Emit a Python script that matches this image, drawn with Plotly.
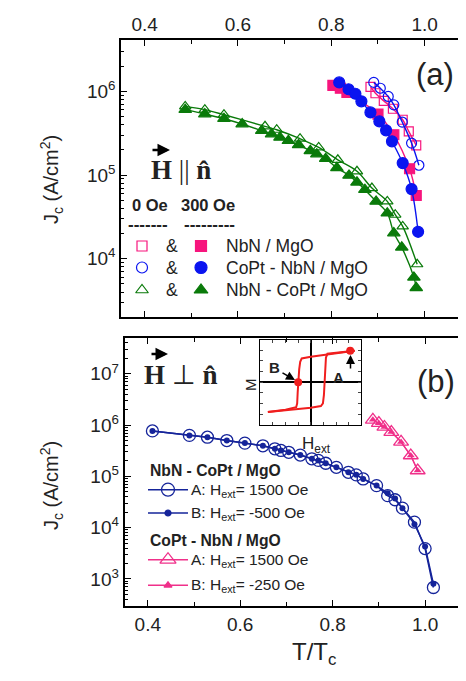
import plotly.graph_objects as go

# ---------------- data: panel (a)  H || n ----------------
nbn_0_x = [0.884, 0.8946, 0.9125, 0.932, 0.953, 0.966, 0.982]
nbn_0_y = [1.13e6, 9.5e5, 7.7e5, 6.2e5, 4.58e5, 3.33e5, 2.26e5]
nbn_300_x = [0.8034, 0.8194, 0.8335, 0.900, 0.934, 0.9677, 0.982]
nbn_300_y = [1.18e6, 1.09e6, 9.7e5, 5.36e5, 3.03e5, 1.19e5, 5.7e4]
copt_nbn_0_x = [0.891, 0.905, 0.922, 0.934, 0.952, 0.972, 0.9877]
copt_nbn_0_y = [1.28e6, 1.09e6, 8.7e5, 6.9e5, 4.3e5, 2.41e5, 1.31e5]
copt_nbn_300_x = [0.817, 0.837, 0.8516, 0.8645, 0.8839, 0.903, 0.9174, 0.930, 0.953, 0.972, 0.986]
copt_nbn_300_y = [1.28e6, 1.06e6, 9.36e5, 7.6e5, 5.61e5, 4.38e5, 3.42e5, 2.53e5, 1.39e5, 6.8e4, 2.1e4]
nbn_copt_0_x = [0.487, 0.529, 0.570, 0.658, 0.683, 0.733, 0.773, 0.814, 0.855, 0.887, 0.920, 0.937, 0.953, 0.984]
nbn_copt_0_y = [6.62e5, 6.04e5, 5.26e5, 3.82e5, 3.48e5, 2.72e5, 2.14e5, 1.52e5, 1.11e5, 7.0e4, 4.85e4, 3.36e4, 2.44e4, 8.6e3]
nbn_copt_300_x = [0.487, 0.529, 0.570, 0.609, 0.651, 0.672, 0.690, 0.708, 0.730, 0.755, 0.769, 0.788,
                  0.812, 0.838, 0.855, 0.872, 0.896, 0.920, 0.934, 0.951, 0.977, 0.982]
nbn_copt_300_y = [6.04e5, 5.36e5, 4.71e5, 4.07e5, 3.39e5, 3.09e5, 2.82e5, 2.57e5, 2.30e5, 1.95e5, 1.78e5, 1.57e5,
                  1.22e5, 9.9e4, 8.2e4, 6.7e4, 4.85e4, 3.5e4, 2.03e4, 1.37e4, 6.0e3, 4.5e3]

# ---------------- data: panel (b)  H perpendicular n ----------------
b_nbn_copt_x = [0.41, 0.49, 0.529, 0.571, 0.61, 0.649, 0.675, 0.688, 0.705, 0.73, 0.755, 0.769,
                0.785, 0.808, 0.834, 0.851, 0.866, 0.895, 0.919, 0.935, 0.951, 0.977, 1.0, 1.018]
b_nbn_copt_A = [7.7e5, 6.3e5, 5.8e5, 5.0e5, 4.45e5, 3.95e5, 3.45e5, 3.2e5, 2.95e5, 2.6e5, 2.2e5, 2.05e5,
                1.8e5, 1.5e5, 1.2e5, 1.07e5, 8.9e4, 6.6e4, 4.2e4, 3.5e4, 2.4e4, 1.28e4, 3.9e3, 6.8e2]
b_nbn_copt_B = [7.7e5, 6.3e5, 5.8e5, 5.0e5, 4.45e5, 3.95e5, 3.45e5, 3.2e5, 2.95e5, 2.6e5, 2.2e5, 2.05e5,
                1.8e5, 1.5e5, 1.2e5, 1.07e5, 8.9e4, 6.6e4, 4.7e4, 3.7e4, 2.4e4, 1.17e4, 4.3e3, 8.0e2]
b_copt_nbn_x = [0.887, 0.900, 0.912, 0.927, 0.948, 0.969, 0.984]
b_copt_nbn_A = [1.27e6, 1.09e6, 9.2e5, 7.3e5, 4.7e5, 2.55e5, 1.3e5]
b_copt_nbn_B = [1.27e6, 1.09e6, 9.2e5, 7.3e5, 4.7e5, 2.55e5, 1.3e5]

# inset hysteresis loop (normalised H, M)
loop_up_H = [-0.85, -0.5, -0.29, -0.27, -0.26, -0.25, -0.23, -0.21, -0.18, 0.0, 0.3, 0.6, 0.87]
loop_up_M = [-0.70, -0.65, -0.59, -0.50, -0.25, 0.0, 0.30, 0.48, 0.56, 0.60, 0.65, 0.70, 0.74]
loop_dn_H = [0.87, 0.6, 0.33, 0.30, 0.29, 0.28, 0.26, 0.24, 0.20, 0.0, -0.4, -0.85]
loop_dn_M = [0.74, 0.71, 0.67, 0.58, 0.30, 0.0, -0.30, -0.50, -0.56, -0.60, -0.65, -0.70]
point_A = (0.78, 0.74)
point_B = (-0.25, 0.0)

x_ticks = [0.4, 0.6, 0.8, 1.0]
x_ticklabels = ["0.4", "0.6", "0.8", "1.0"]
x_minor = [0.5, 0.7, 0.9]
y_ticks_a = [1e4, 1e5, 1e6]
y_ticklabels_a = ["10<sup>4</sup>", "10<sup>5</sup>", "10<sup>6</sup>"]
y_ticks_b = [1e3, 1e4, 1e5, 1e6, 1e7]
y_ticklabels_b = ["10<sup>3</sup>", "10<sup>4</sup>", "10<sup>5</sup>", "10<sup>6</sup>", "10<sup>7</sup>"]
decades = [2, 3, 4, 5, 6, 7]
log_minor = [m * 10 ** d for d in decades for m in range(2, 10)]

W, H = 466, 681
FONT = "Liberation Sans, Arial, sans-serif"
SERIF = "Liberation Serif, Times New Roman, serif"
PINK = "#F7157D"
BLUE = "#0A14F0"
GREEN = "#0A7A0A"
NAVY = "#15249A"
BPINK = "#F0308A"
RED = "#F01E1E"
TXT = "#222222"

def px2x(p):
    return p / W

def py2y(p):
    return 1 - p / H

fig = go.Figure()

# ---- panel (a) traces ----
def add_a(x, y, sym, color, size):
    fig.add_trace(go.Scatter(x=x, y=y, mode="lines+markers", xaxis="x", yaxis="y",
                             line=dict(color=color, width=1.4, shape="spline", smoothing=1.0),
                             marker=dict(symbol=sym, size=size, color=color,
                                         line=dict(color=color, width=1.2)),
                             showlegend=False))

add_a(nbn_copt_0_x, nbn_copt_0_y, "triangle-up-open", GREEN, 10)
add_a(nbn_copt_300_x, nbn_copt_300_y, "triangle-up", GREEN, 11)
add_a(nbn_0_x, nbn_0_y, "square-open", PINK, 9)
add_a(copt_nbn_0_x, copt_nbn_0_y, "circle-open", BLUE, 10)
add_a(nbn_300_x, nbn_300_y, "square", PINK, 10)
add_a(copt_nbn_300_x, copt_nbn_300_y, "circle", BLUE, 11)

# ---- panel (b) traces ----
fig.add_trace(go.Scatter(x=b_nbn_copt_x, y=b_nbn_copt_A, mode="lines+markers", xaxis="x2", yaxis="y2",
                         line=dict(color=NAVY, width=1.5),
                         marker=dict(symbol="circle-open", size=12, color=NAVY, line=dict(width=1.3)),
                         showlegend=False))
fig.add_trace(go.Scatter(x=b_nbn_copt_x, y=b_nbn_copt_B, mode="lines+markers", xaxis="x2", yaxis="y2",
                         line=dict(color=NAVY, width=1.5),
                         marker=dict(symbol="circle", size=6, color=NAVY),
                         showlegend=False))
fig.add_trace(go.Scatter(x=b_copt_nbn_x, y=b_copt_nbn_A, mode="lines+markers", xaxis="x2", yaxis="y2",
                         line=dict(color=BPINK, width=1.3),
                         marker=dict(symbol="triangle-up-open", size=13, color=BPINK, line=dict(width=1.3)),
                         showlegend=False))
fig.add_trace(go.Scatter(x=b_copt_nbn_x, y=b_copt_nbn_B, mode="lines+markers", xaxis="x2", yaxis="y2",
                         line=dict(color=BPINK, width=1.3),
                         marker=dict(symbol="triangle-up", size=7, color=BPINK),
                         showlegend=False))

# ---- inset loop ----
fig.add_trace(go.Scatter(x=loop_up_H, y=loop_up_M, mode="lines", xaxis="x4", yaxis="y4",
                         line=dict(color=RED, width=2), showlegend=False))
fig.add_trace(go.Scatter(x=loop_dn_H, y=loop_dn_M, mode="lines", xaxis="x4", yaxis="y4",
                         line=dict(color=RED, width=2), showlegend=False))
fig.add_trace(go.Scatter(x=[point_A[0], point_B[0]], y=[point_A[1], point_B[1]], mode="markers",
                         xaxis="x4", yaxis="y4", marker=dict(color=RED, size=8), showlegend=False))

# ---- legend keys (pixel overlay axis x3/y3) ----
def key(xs, ys, sym, color, size, mode="markers", lw=1.2):
    fig.add_trace(go.Scatter(x=xs, y=ys, mode=mode, xaxis="x3", yaxis="y3",
                             line=dict(color=color, width=1.5),
                             marker=dict(symbol=sym, size=size, color=color, line=dict(color=color, width=lw)),
                             showlegend=False, hoverinfo="skip"))

rows_a = [238, 259.5, 282]
key([134], [rows_a[0]], "square-open", PINK, 10)
key([193], [rows_a[0]], "square", PINK, 11)
key([134], [rows_a[1]], "circle-open", BLUE, 11)
key([193], [rows_a[1]], "circle", BLUE, 12)
key([134], [rows_a[2]], "triangle-up-open", GREEN, 11)
key([193], [rows_a[2]], "triangle-up", GREEN, 12)

# bottom legend keys
key([140, 180], [481.7, 481.7], "circle-open", NAVY, 1, mode="lines")
key([160], [481.7], "circle-open", NAVY, 13, lw=1.3)
key([140, 180], [505, 505], "circle", NAVY, 1, mode="lines")
key([160], [505], "circle", NAVY, 6)
key([140, 180], [551.7, 551.7], "circle", BPINK, 1, mode="lines")
key([160], [551.7], "triangle-up-open", BPINK, 14, lw=1.3)
key([140, 180], [577.3, 577.3], "circle", BPINK, 1, mode="lines")
key([160], [577.3], "triangle-up", BPINK, 7)

# ---- annotations ----
ann = []

def txt(x, y, text, size, anchor="center", bold=False, font=FONT, color=TXT, angle=0):
    t = f"<b>{text}</b>" if bold else text
    ann.append(dict(x=x, y=y, xref="x3", yref="y3", text=t, showarrow=False, xanchor=anchor,
                    yanchor="middle", textangle=angle, font=dict(family=font, size=size, color=color)))

def arrow(xh, yh, ax, ay, width=2.2, head=2, size=1.0):
    ann.append(dict(x=xh, y=yh, xref="x3", yref="y3", text="", showarrow=True, ax=ax, ay=ay,
                    arrowhead=head, arrowsize=size, arrowwidth=width, arrowcolor="black"))

txt(427, 66, "(a)", 31)
txt(428, 373, "(b)", 31)

# panel a field label
txt(173, 162, "<b>H</b> || <b>n\u0302</b>", 27, font=SERIF)
arrow(162, 142, -19, 0, width=2.5)
# panel b field label
txt(173, 367, "<b>H</b> \u22a5 <b>n\u0302</b>", 27, font=SERIF)
arrow(160, 346, -18, 0, width=2.5)

txt(142, 197, "0 Oe", 16.5, bold=True)
txt(200, 197, "300 Oe", 16.5, bold=True)
txt(139.5, 216, "-------", 17, bold=True)
txt(201.5, 216, "---------", 17, bold=True)
for r in rows_a:
    txt(164, r, "&", 17.5)
txt(216, rows_a[0], "NbN / MgO", 17.5, anchor="left")
txt(216, rows_a[1], "CoPt - NbN / MgO", 17.5, anchor="left")
txt(216, rows_a[2], "NbN - CoPt / MgO", 17.5, anchor="left")

txt(140, 462, "NbN - CoPt / MgO", 15.7, anchor="left", bold=True)
txt(181, 482, "A: H<sub>ext</sub>= 1500 Oe", 15.5, anchor="left")
txt(181, 505, "B: H<sub>ext</sub>= -500 Oe", 15.5, anchor="left")
txt(140, 532, "CoPt - NbN / MgO", 15.7, anchor="left", bold=True)
txt(181, 552, "A: H<sub>ext</sub>= 1500 Oe", 15.5, anchor="left")
txt(181, 577, "B: H<sub>ext</sub>= -250 Oe", 15.5, anchor="left")

# inset labels
txt(242, 377, "M", 15, angle=-90)
txt(308, 437, "H<sub>ext</sub>", 17)
txt(266, 359, "B", 15, bold=True)
txt(330, 369, "A", 15, bold=True)
arrow(287, 372, -14, -8, width=1.5, size=1.2)
arrow(342.5, 347, 0, 15, width=1.5, size=1.2)

# axis titles
txt(43, 172, "J<sub>c</sub> (A/cm<sup>2</sup>)", 20, angle=-90)
txt(43, 478, "J<sub>c</sub> (A/cm<sup>2</sup>)", 20, angle=-90)
txt(306, 645, "T/T<sub>c</sub>", 24)

axis_common = dict(showgrid=False, zeroline=False, showline=True, linecolor="black", linewidth=2,
                   mirror="ticks", ticks="inside", tickcolor="black", tickwidth=1.3, ticklen=6,
                   tickfont=dict(family=FONT, size=19, color=TXT), automargin=False)
minor_common = dict(showgrid=False, zeroline=False, showline=False, mirror="ticks", ticks="inside",
                    tickcolor="black", showticklabels=False, automargin=False)

dom_ax = [px2x(113.3), px2x(463.3)]
dom_ay = [py2y(309.3), py2y(32.3)]
dom_bx = [px2x(116.7), px2x(463.3)]
dom_by = [py2y(597.7), py2y(330)]
rng_x = [0.35, 1.1]
rng_ay = [3.301, 6.61]
rng_by = [2.477, 7.699]

fig.update_layout(
    width=W, height=H, margin=dict(l=0, r=0, t=0, b=0),
    paper_bgcolor="white", plot_bgcolor="rgba(0,0,0,0)",
    annotations=ann,
    xaxis=dict(domain=dom_ax, anchor="y", range=rng_x, side="top",
               tickvals=x_ticks, ticktext=x_ticklabels, **axis_common),
    yaxis=dict(domain=dom_ay, anchor="x", type="log", range=rng_ay,
               tickvals=y_ticks_a, ticktext=y_ticklabels_a, **axis_common),
    xaxis2=dict(domain=dom_bx, anchor="y2", range=rng_x,
                tickvals=x_ticks, ticktext=x_ticklabels, **axis_common),
    yaxis2=dict(domain=dom_by, anchor="x2", type="log", range=rng_by,
                tickvals=y_ticks_b, ticktext=y_ticklabels_b, **axis_common),
    # minor tick overlays
    xaxis5=dict(overlaying="x", anchor="y", side="top", range=rng_x, tickvals=x_minor,
                ticklen=4, tickwidth=1.2, **minor_common),
    yaxis5=dict(overlaying="y", anchor="x", side="left", type="log", range=rng_ay, tickvals=log_minor,
                ticklen=3, tickwidth=1, **minor_common),
    xaxis6=dict(overlaying="x2", anchor="y2", side="bottom", range=rng_x, tickvals=x_minor,
                ticklen=4, tickwidth=1.2, **minor_common),
    yaxis6=dict(overlaying="y2", anchor="x2", side="left", type="log", range=rng_by, tickvals=log_minor,
                ticklen=3, tickwidth=1, **minor_common),
    xaxis3=dict(domain=[0, 1], anchor="y3", range=[0, W], visible=False, fixedrange=True),
    yaxis3=dict(domain=[0, 1], anchor="x3", range=[H, 0], visible=False, fixedrange=True),
    xaxis4=dict(domain=[px2x(252.3), px2x(353.3)], anchor="y4", range=[-1, 1], showgrid=False,
                zeroline=True, zerolinecolor="black", zerolinewidth=1.5, showline=True, mirror="ticks",
                linecolor="black", linewidth=1.3, ticks="inside", ticklen=3, dtick=0.25,
                showticklabels=False),
    yaxis4=dict(domain=[py2y(416.7), py2y(331.7)], anchor="x4", range=[-1, 1], showgrid=False,
                zeroline=True, zerolinecolor="black", zerolinewidth=1.5, showline=True, mirror="ticks",
                linecolor="black", linewidth=1.3, ticks="inside", ticklen=3, dtick=0.25,
                showticklabels=False),
)

# invisible anchors so the minor-tick overlay axes are rendered
fig.add_trace(go.Scatter(x=[0.5], y=[1e5], xaxis="x5", yaxis="y5", mode="markers",
                         marker=dict(opacity=0), showlegend=False, hoverinfo="skip"))
fig.add_trace(go.Scatter(x=[0.5], y=[1e5], xaxis="x6", yaxis="y6", mode="markers",
                         marker=dict(opacity=0), showlegend=False, hoverinfo="skip"))

fig.write_html("out.html")
